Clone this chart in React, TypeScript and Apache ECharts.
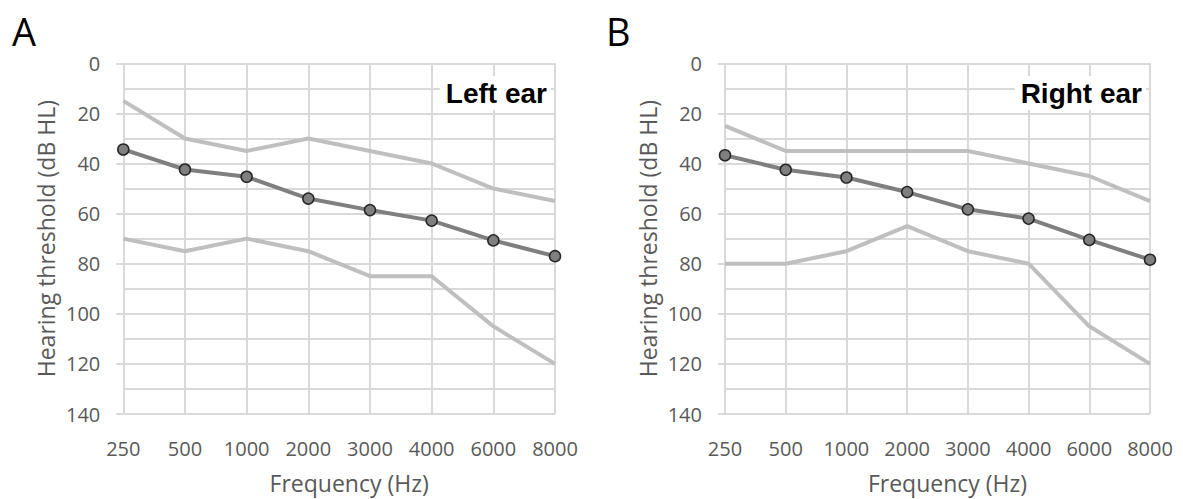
import React, { useEffect, useRef } from "react";
import * as echarts from "echarts";

const frequencies = ["250", "500", "1000", "2000", "3000", "4000", "6000", "8000"];
const leftUpper = [15, 30, 35, 30, 35, 40, 50, 55];
const leftMedian = [34.4, 42.4, 45.3, 54, 58.6, 62.8, 70.7, 77];
const leftLower = [70, 75, 70, 75, 85, 85, 105, 120];
const rightUpper = [25, 35, 35, 35, 35, 40, 45, 55];
const rightMedian = [36.7, 42.5, 45.6, 51.4, 58.3, 62, 70.5, 78.4];
const rightLower = [80, 80, 75, 65, 75, 80, 105, 120];
const yTicks = [0, 20, 40, 60, 80, 100, 120, 140];
const panelLetters = ["A", "B"];
const panelTitles = ["Left ear", "Right ear"];

const FONT = "'Open Sans', sans-serif";
const BOLD_FONT = "'Liberation Sans', Arial, sans-serif";
const GRID = "#d9d9d9";
const TEXT = "#595959";

export default function App() {
  const ref = useRef<HTMLDivElement>(null);
  useEffect(() => {
    if (!ref.current) return;
    const chart = echarts.init(ref.current, null, { renderer: "svg" });
    const grids = [
      { left: 123.3, top: 63.3, width: 431.7, height: 356 },
      { left: 725, top: 63.3, width: 425, height: 356 },
    ];
    const xAxis = grids.map((_, i) => ({
      type: "category",
      gridIndex: i,
      data: frequencies,
      boundaryGap: false,
      position: "bottom",
      axisLine: { show: false, onZero: false },
      axisTick: { show: false },
      axisLabel: { color: TEXT, fontSize: 20, fontFamily: FONT, margin: 24 },
      splitLine: { show: true, lineStyle: { color: GRID, width: 2 } },
      name: "Frequency (Hz)",
      nameLocation: "middle",
      nameGap: 57,
      nameTextStyle: { color: TEXT, fontSize: 23, fontFamily: FONT, padding: [0, 0, 0, 20] },
    }));
    const yAxis = grids.map((_, i) => ({
      type: "value",
      gridIndex: i,
      inverse: true,
      min: yTicks[0],
      max: yTicks[yTicks.length - 1],
      interval: yTicks[1] - yTicks[0],
      axisLine: { show: false },
      axisTick: { show: true, length: 7, lineStyle: { color: GRID, width: 2 } },
      minorTick: { show: false, splitNumber: 2 },
      minorSplitLine: { show: true, lineStyle: { color: GRID, width: 2 } },
      splitLine: { show: true, lineStyle: { color: GRID, width: 2 } },
      axisLabel: { color: TEXT, fontSize: 20, fontFamily: FONT, margin: 23 },
      name: "Hearing threshold (dB HL)",
      nameLocation: "middle",
      nameGap: 66,
      nameTextStyle: { color: TEXT, fontSize: 23, fontFamily: FONT },
    }));
    const light = (data: number[], i: number, name: string) => ({
      type: "line",
      name,
      xAxisIndex: i,
      yAxisIndex: i,
      data,
      showSymbol: false,
      symbol: "none",
      lineStyle: { color: "#bfbfbf", width: 4 },
      z: 2,
    });
    const dark = (data: number[], i: number, name: string) => ({
      type: "line",
      name,
      xAxisIndex: i,
      yAxisIndex: i,
      data,
      symbol: "circle",
      symbolSize: 11,
      lineStyle: { color: "#7f7f7f", width: 4 },
      itemStyle: { color: "#7f7f7f", borderColor: "#262626", borderWidth: 1.5 },
      z: 3,
    });
    const titleText = (x: number, text: string) => ({
      type: "text",
      x,
      y: 93,
      z: 100,
      style: {
        text,
        font: `bold 28px ${BOLD_FONT}`,
        fill: "#000",
        align: "right",
        verticalAlign: "middle",
        backgroundColor: "#fff",
        padding: [3, 4, 3, 6],
      },
    });
    chart.setOption({
      animation: false,
      grid: grids,
      xAxis,
      yAxis,
      series: [
        light(leftUpper, 0, "Left upper"),
        light(leftLower, 0, "Left lower"),
        dark(leftMedian, 0, "Left median"),
        light(rightUpper, 1, "Right upper"),
        light(rightLower, 1, "Right lower"),
        dark(rightMedian, 1, "Right median"),
      ],
      graphic: [
        { type: "text", x: 12, y: 31, style: { text: panelLetters[0], font: `38px ${FONT}`, fill: "#000", verticalAlign: "middle" } },
        { type: "text", x: 606, y: 31, style: { text: panelLetters[1], font: `38px ${FONT}`, fill: "#000", verticalAlign: "middle" } },
        titleText(551, panelTitles[0]),
        titleText(1146, panelTitles[1]),
      ],
    });
    return () => chart.dispose();
  }, []);
  return (
    <div
      ref={ref}
      style={{ position: "fixed", left: 0, top: 0, width: 1183, height: 499, background: "#fff" }}
    />
  );
}
